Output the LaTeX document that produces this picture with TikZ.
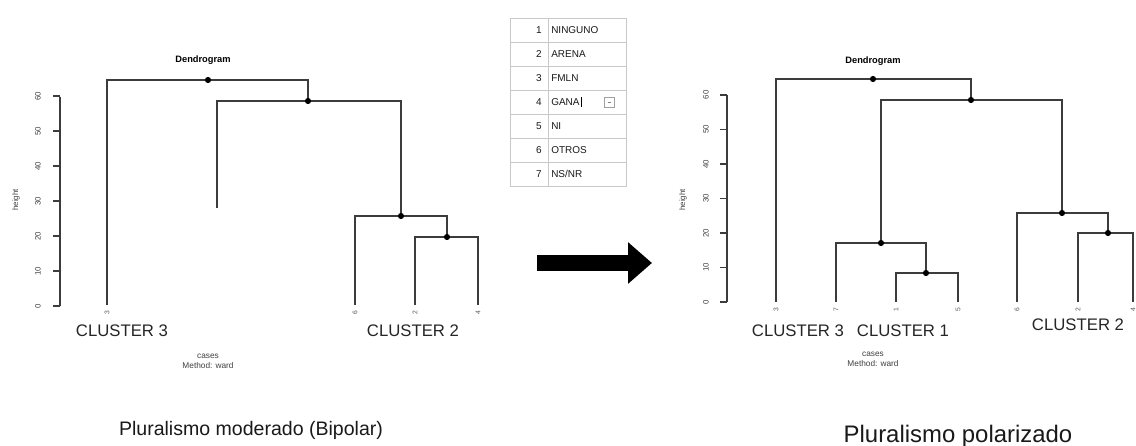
\documentclass[tikz,border=0pt]{standalone}
\usepackage{fontspec}
\setmainfont{Liberation Sans}
\usetikzlibrary{positioning, arrows.meta}
\definecolor{linegray}{HTML}{3C3C3C}
\definecolor{tabgray}{HTML}{C8C8C8}

\begin{document}
\begin{tikzpicture}[x=0.025cm, y=-0.025cm,
    branch/.style={linegray, line width=1.4pt},
    axisline/.style={linegray, line width=1pt},
    leaflab/.style={font=\fontsize{4.8}{4.8}\selectfont, text=black!65, rotate=90, anchor=east, inner sep=1pt},
    ticklab/.style={font=\fontsize{5.6}{5.6}\selectfont, text=black!75, rotate=90, inner sep=0pt},
    clusterlab/.style={font=\fontsize{11.9}{14}\selectfont, text=black!85},
    caption/.style={font=\fontsize{13.9}{16}\selectfont, text=black!90},
    plottitle/.style={font=\bfseries\fontsize{6.6}{7}\selectfont},
    xlab/.style={font=\fontsize{5.9}{7.2}\selectfont, align=center, text=black!75, inner sep=0pt},
    cell/.style={font=\fontsize{7.1}{8}\selectfont, text=black!90, inner sep=0pt}]
\clip (0,0) rectangle (1136,446);
\fill[white] (0,0) rectangle (1136,446);

% left dendrogram
\node[plottitle] (titleL) at (203,60) {Dendrogram};
\draw[axisline] (60,96.7) -- (60,306);
\foreach \v in {0,10,...,60} {
  \draw[axisline] (60,{306-3.5*\v}) -- (53,{306-3.5*\v});
  \node[ticklab] at (38,{306-3.5*\v}) {\v};
}
\node[ticklab] (hL) at (16,200) {height};
\coordinate (L3) at (107,305);
\coordinate (c1L) at (217,208);
\coordinate (L6) at (355,305);
\coordinate (L2) at (415,305);
\coordinate (L4) at (478,305);
\coordinate (mA) at (208,80);
\coordinate (mB) at (308,101);
\coordinate (mC) at (401,216);
\coordinate (mD) at (447,237);
\draw[branch] (L3) |- (mA) -| (mB);
\draw[branch] (c1L) |- (mB) -| (mC);
\draw[branch] (L6) |- (mC) -| (mD);
\draw[branch] (L2) |- (mD) -| (L4);
\foreach \m in {mA,mB,mC,mD} \fill (\m) circle (2.2pt);
\foreach \l/\t in {L3/3,L6/6,L2/2,L4/4} \node[leaflab] at ([yshift=-3pt]\l) {\t};
\node[clusterlab] (cl3L) at (122,331) {CLUSTER 3};
\node[clusterlab] (cl2L) at (413,331) {CLUSTER 2};
\node[xlab] (xL) at (208,361) {cases\\Method: ward};
\node[caption] (capL) at (251,430) {Pluralismo moderado (Bipolar)};

% party table
\draw[tabgray] (510,18) rectangle (626,186);
\foreach \i in {1,...,6} \draw[tabgray] (510,{18+24*\i}) -- (626,{18+24*\i});
\draw[tabgray] (548,18) -- (548,186);
\foreach \name [count=\n] in {NINGUNO,ARENA,FMLN,GANA,NI,OTROS,{NS/NR}} {
  \node[cell, anchor=east] (num\n) at (542,{6+24*\n}) {\n};
  \node[cell, anchor=west] (name\n) at (551,{6+24*\n}) {\name};
}
\draw[black, line width=0.9pt] ([xshift=1.2pt,yshift=1pt]name4.north east) -- ([xshift=1.2pt,yshift=-1pt]name4.south east);
\draw[tabgray!80!black, fill=white] (604,97) rectangle (614,107);
\draw[gray] (607.5,102) -- (610.5,102);

% arrow
\coordinate (arrS) at (537,263);
\coordinate (arrE) at (652,263);
\draw[line width=11.8pt, -{Triangle[length=17pt, width=28.4pt]}] (arrS) -- (arrE);

% right dendrogram
\node[plottitle] (titleR) at (873,61) {Dendrogram};
\draw[axisline] (727,95) -- (727,302);
\foreach \v in {0,10,...,60} {
  \draw[axisline] (727,{302-3.45*\v}) -- (720,{302-3.45*\v});
  \node[ticklab] at (706,{302-3.45*\v}) {\v};
}
\node[ticklab] (hR) at (683,200) {height};
\coordinate (R3) at (776,302);
\coordinate (R7) at (836,302);
\coordinate (R1) at (896,302);
\coordinate (R5) at (958,302);
\coordinate (R6) at (1017,302);
\coordinate (R2) at (1078,302);
\coordinate (R4) at (1133,302);
\coordinate (nA) at (873,79);
\coordinate (nB) at (971,100);
\coordinate (nC) at (881,243);
\coordinate (nD) at (926,273);
\coordinate (nE) at (1062,213);
\coordinate (nF) at (1108,233);
\draw[branch] (R3) |- (nA) -| (nB);
\draw[branch] (nC) |- (nB) -| (nE);
\draw[branch] (R7) |- (nC) -| (nD);
\draw[branch] (R1) |- (nD) -| (R5);
\draw[branch] (R6) |- (nE) -| (nF);
\draw[branch] (R2) |- (nF) -| (R4);
\foreach \m in {nA,nB,nC,nD,nE,nF} \fill (\m) circle (2.2pt);
\foreach \l/\t in {R3/3,R7/7,R1/1,R5/5,R6/6,R2/2,R4/4} \node[leaflab] at ([yshift=-3pt]\l) {\t};
\node[clusterlab] (cl3R) at (798,331) {CLUSTER 3};
\node[clusterlab] (cl1R) at (903,331) {CLUSTER 1};
\node[clusterlab] (cl2R) at (1078,325) {CLUSTER 2};
\node[xlab] (xR) at (873,359) {cases\\Method: ward};
\node[caption, font=\fontsize{17}{19}\selectfont] (capR) at (958,436) {Pluralismo polarizado};
\end{tikzpicture}
\end{document}
